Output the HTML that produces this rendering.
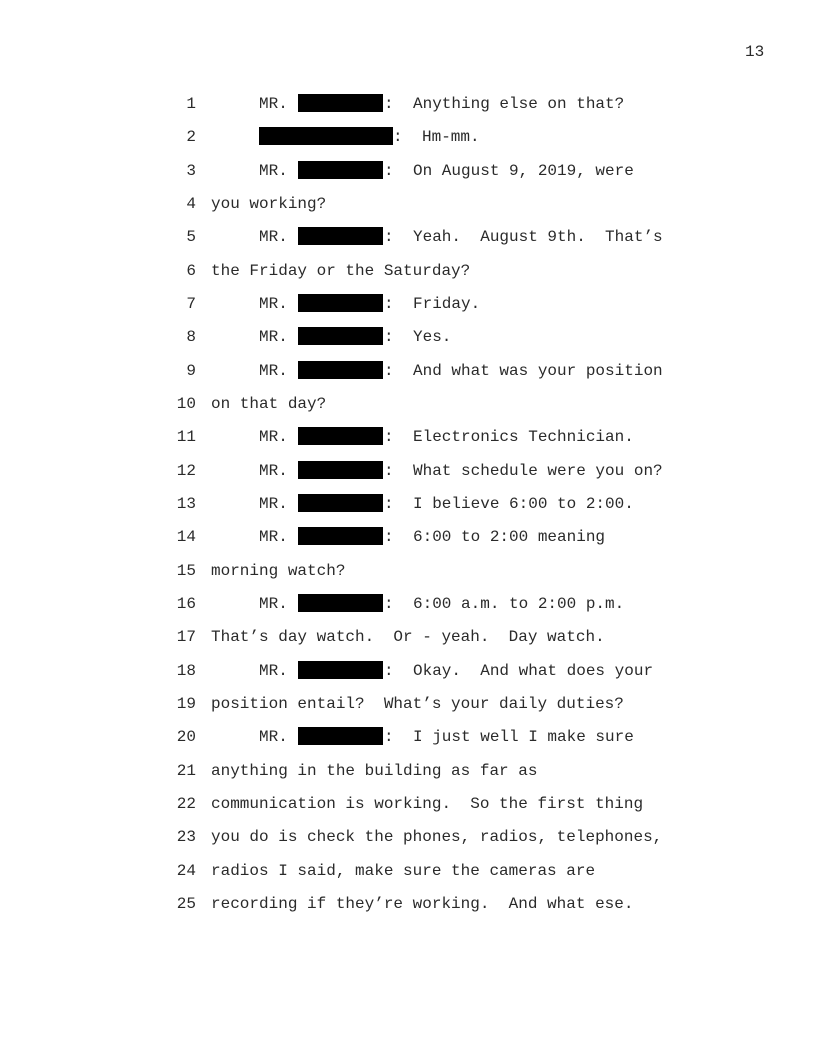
<!DOCTYPE html>
<html><head><meta charset="utf-8"><style>
body{margin:0;width:816px;height:1056px;background:#fff;position:relative;overflow:hidden;font-family:"Liberation Mono",monospace;font-size:16px;color:#2a2a2a}
.l{position:absolute;left:0;height:20px;line-height:20px;white-space:pre}
.n{position:absolute;width:196px;text-align:right;left:0}
.t{position:absolute;left:211px}
.b{position:absolute;background:#000;height:18px}
</style></head><body>
<div class="l" style="top:42px;left:745px">13</div>
<div id="c"></div>
<script>
var L=[
["1","m","Anything else on that?"],
["2","w","Hm-mm."],
["3","m","On August 9, 2019, were"],
["4","","you working?"],
["5","m","Yeah.  August 9th.  That\u2019s"],
["6","","the Friday or the Saturday?"],
["7","m","Friday."],
["8","m","Yes."],
["9","m","And what was your position"],
["10","","on that day?"],
["11","m","Electronics Technician."],
["12","m","What schedule were you on?"],
["13","m","I believe 6:00 to 2:00."],
["14","m","6:00 to 2:00 meaning"],
["15","","morning watch?"],
["16","m","6:00 a.m. to 2:00 p.m."],
["17","","That\u2019s day watch.  Or - yeah.  Day watch."],
["18","m","Okay.  And what does your"],
["19","","position entail?  What\u2019s your daily duties?"],
["20","m","I just well I make sure"],
["21","","anything in the building as far as"],
["22","","communication is working.  So the first thing"],
["23","","you do is check the phones, radios, telephones,"],
["24","","radios I said, make sure the cameras are"],
["25","","recording if they\u2019re working.  And what ese."]];
var h="";
L.forEach(function(r,i){
 var y=104+i*33.33;
 h+='<div class="l" style="top:'+(y-10)+'px;width:816px"><span class="n">'+r[0]+'</span>';
 if(r[1]=="m"){
  h+='<span class="t" style="left:259px">MR.</span><span class="b" style="left:298px;width:85px;top:0px"></span><span class="t" style="left:384px">:</span><span class="t" style="left:413px">'+r[2]+'</span>';
 }else if(r[1]=="w"){
  h+='<span class="b" style="left:259px;width:134px;top:0px"></span><span class="t" style="left:393px">:</span><span class="t" style="left:422px">'+r[2]+'</span>';
 }else{
  h+='<span class="t">'+r[2]+'</span>';
 }
 h+='</div>';
});
document.getElementById("c").innerHTML=h;
</script>
</body></html>
